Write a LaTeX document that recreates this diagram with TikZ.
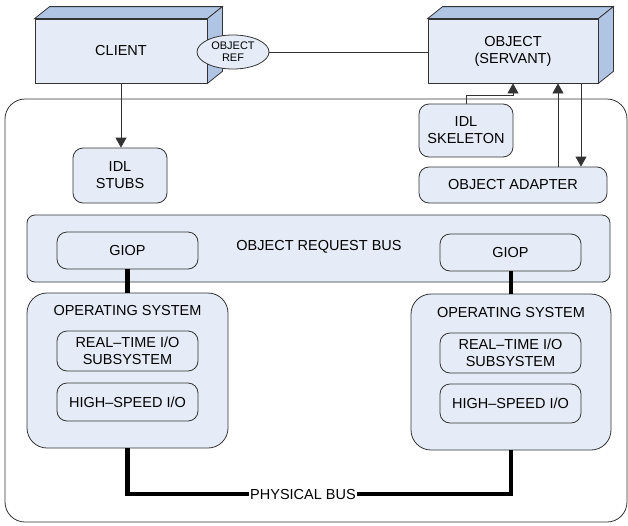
\documentclass[tikz,border=0pt]{standalone}
\usepackage{fontspec}
\setmainfont{Liberation Sans}
\usetikzlibrary{arrows.meta,calc,shapes.geometric}
\definecolor{boxfill}{HTML}{E6ECF7}
\definecolor{cubeside}{HTML}{B0C4E4}
\definecolor{edge}{HTML}{333333}
\tikzset{
  base/.style={draw=edge, line width=0.8pt, fill=boxfill, inner sep=0pt, align=center,
    font=\fontsize{14.5}{17}\selectfont},
  cube/.style={base, rounded corners=0pt},
  rbox/.style={base, rounded corners=10pt},
  osbox/.style={base, rounded corners=20pt},
  thin/.style={draw=edge, line width=0.8pt},
  arr/.style={thin, -{Triangle[length=10pt,width=11pt]}},
  thick/.style={line width=4.5pt, draw=black},
  lbl/.style={inner sep=1pt, font=\fontsize{14.5}{17}\selectfont},
}
\newcommand{\cubetop}[1]{%
  \fill[cubeside,draw=edge,line width=0.8pt] (#1.north west) -- ++(15,-12) -- ($(#1.north east)+(15,-12)$) -- (#1.north east) -- cycle;
  \fill[cubeside,draw=edge,line width=0.8pt] (#1.north east) -- ++(15,-12) -- ($(#1.south east)+(15,-12)$) -- (#1.south east) -- cycle;}
\begin{document}
\begin{tikzpicture}[x=1pt,y=-1pt]
\useasboundingbox (0,0) rectangle (628,525);
% outer frame
\draw[thin, rounded corners=20pt] (5,99) rectangle (627,522);
% cubes
\node[cube, minimum width=172pt, minimum height=64pt] (client) at (121,51) {CLIENT};
\cubetop{client}
\node[cube, minimum width=170pt, minimum height=64pt] (object) at (513,51) {OBJECT\\(SERVANT)};
\cubetop{object}
\node[base, ellipse, minimum width=72pt, minimum height=34pt, font=\fontsize{11}{12}\selectfont] (oref) at (233,52) {OBJECT\\REF};
% upper boxes
\node[rbox, minimum width=94pt, minimum height=55pt] (stubs) at (120,175.5) {IDL\\STUBS};
\node[rbox, minimum width=94pt, minimum height=53pt] (skel) at (466,130.5) {IDL\\SKELETON};
\node[rbox, minimum width=188pt, minimum height=36pt] (adapter) at (513,185) {OBJECT ADAPTER};
% bus
\node[base, rounded corners=8pt, minimum width=583pt, minimum height=67pt] (orb) at (318.5,248.5) {};
\node[lbl] (orbl) at (319,247) {OBJECT REQUEST BUS};
\node[rbox, minimum width=141pt, minimum height=37pt] (giopl) at (127.5,250.5) {GIOP};
\node[rbox, minimum width=141pt, minimum height=37pt] (giopr) at (510.5,252.5) {GIOP};
% operating systems
\node[osbox, minimum width=201pt, minimum height=155pt] (osl) at (127.5,370.5) {};
\node[lbl] (oslt) at (127.5,311) {OPERATING SYSTEM};
\node[rbox, minimum width=141pt, minimum height=40pt] (rtl) at (127.5,351) {REAL--TIME I/O\\SUBSYSTEM};
\node[rbox, minimum width=141pt, minimum height=38pt] (hsl) at (127.5,402) {HIGH--SPEED I/O};
\node[osbox, minimum width=200pt, minimum height=156pt] (osr) at (511,372) {};
\node[lbl] (osrt) at (511,313) {OPERATING SYSTEM};
\node[rbox, minimum width=141pt, minimum height=40pt] (rtr) at (510.5,353) {REAL--TIME I/O\\SUBSYSTEM};
\node[rbox, minimum width=141pt, minimum height=39pt] (hsr) at (510.5,403.5) {HIGH--SPEED I/O};
\node[lbl] (bus) at (303,494) {PHYSICAL BUS};
% connectors
\draw[thin] (oref.east) -- (oref.east -| object.west);
\draw[arr] (client.south) -- (client.south |- stubs.north);
\coordinate (sk) at (0,95);
\draw[arr] (skel.north) -- (skel.north |- sk) -| (object.south);
\coordinate (a1) at (558,0);
\coordinate (a2) at (581,0);
\draw[arr] (adapter.north -| a1) -- (object.south -| a1);
\draw[arr] (object.south -| a2) -- (adapter.north -| a2);
\draw[thick] (giopl.south -| osl.north) -- (osl.north);
\draw[thick] (giopr.south -| osr.north) -- (osr.north);
\draw[thick] (osl.south) -- (osl.south |- bus) -- (bus.west);
\draw[thick] (bus.east) -- (bus.east -| osr.south) -- (osr.south);
\end{tikzpicture}
\end{document}
